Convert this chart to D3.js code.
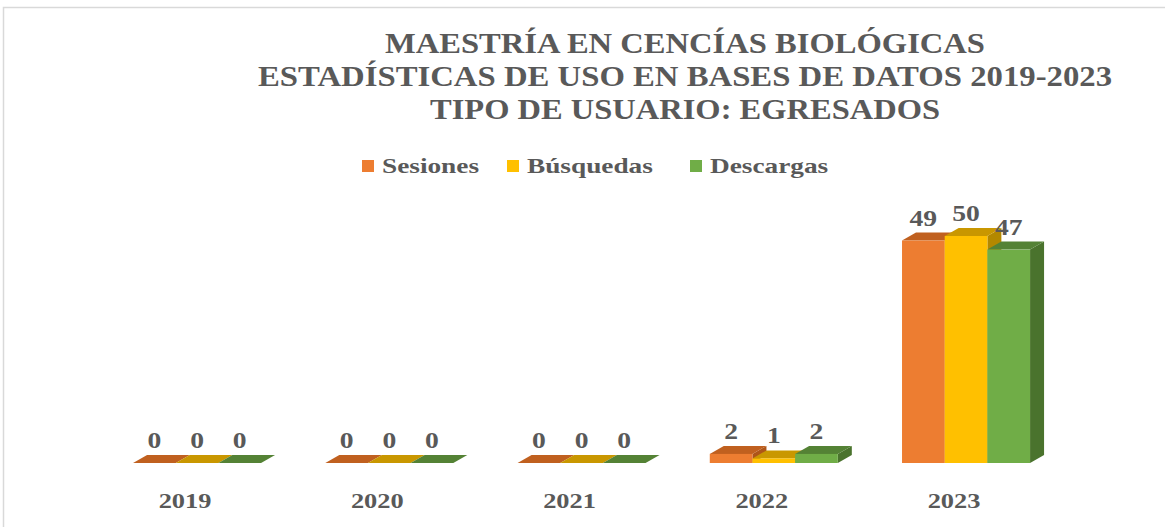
<!DOCTYPE html>
<html>
<head>
<meta charset="utf-8">
<script src="https://cdn.jsdelivr.net/npm/d3@7"></script>
<style>
  body { margin: 0; background: #fff; }
  text { font-family: "Liberation Serif", "Times New Roman", serif; font-weight: bold; fill: #595959; }
</style>
</head>
<body>
<svg id="chart" width="1165" height="527"></svg>
<script>
// chart data
const years = ['2019', '2020', '2021', '2022', '2023'];
const seriesNames = ['Sesiones', 'Búsquedas', 'Descargas'];
const sesiones = [0, 0, 0, 2, 49];
const busquedas = [0, 0, 0, 1, 50];
const descargas = [0, 0, 0, 2, 47];
const titleLines = [
  'MAESTRÍA EN CENCÍAS BIOLÓGICAS',
  'ESTADÍSTICAS DE USO EN BASES DE DATOS 2019-2023',
  'TIPO DE USUARIO: EGRESADOS'
];

const values = [sesiones, busquedas, descargas];
// front, top, side
const colors = [
  ['#ED7D31', '#C0601F', '#AE5519'],
  ['#FFC000', '#C99700', '#B38800'],
  ['#70AD47', '#548235', '#4A732D']
];

const svg = d3.select('#chart');
const dx = 14, dy = -8; // 3d depth offset

// frame
svg.append('path')
  .attr('d', 'M3.5,527 V7.5 H1165')
  .attr('fill', 'none')
  .attr('stroke', '#D9D9D9')
  .attr('stroke-width', 1.5);

// title
const titleBase = [53, 86, 119];
const titleWidth = [600, 854, 510];
svg.append('g').selectAll('text')
  .data(titleLines).enter()
  .append('text')
    .attr('x', 685)
    .attr('y', (d, i) => titleBase[i])
    .attr('text-anchor', 'middle')
    .attr('font-size', 29)
    .attr('textLength', (d, i) => titleWidth[i])
    .attr('lengthAdjust', 'spacingAndGlyphs')
    .text(d => d);

// scales
const x0 = d3.scaleBand()
  .domain(years)
  .range([69.6, 1093.5])
  .paddingInner(0.334)
  .paddingOuter(0.33);

const x1 = d3.scaleBand()
  .domain(seriesNames)
  .range([0, x0.bandwidth()]);

const y = d3.scaleLinear()
  .domain([0, 50])
  .range([463, 236]);

// text in the picture is drawn wider than normal
function stretchText(sel, k) {
  sel.each(function() {
    const w = this.getComputedTextLength();
    d3.select(this).attr('textLength', w * k).attr('lengthAdjust', 'spacingAndGlyphs');
  });
}

// bars, drawn left to right so each front covers the previous side
const bars = svg.append('g');
years.forEach((yr, i) => {
  seriesNames.forEach((s, j) => {
    const v = values[j][i];
    const a = x0(yr) + x1(s);
    const b = a + x1.bandwidth();
    const top = y(v), base = y(0);
    const g = bars.append('g');
    g.append('polygon')
      .attr('points', [[b, base], [b + dx, base + dy], [b + dx, top + dy], [b, top]].join(' '))
      .attr('fill', colors[j][2]);
    g.append('polygon')
      .attr('points', [[a, top], [a + dx, top + dy], [b + dx, top + dy], [b, top]].join(' '))
      .attr('fill', colors[j][1]);
    if (base - top > 0) {
      g.append('rect')
        .attr('x', a).attr('y', top)
        .attr('width', b - a).attr('height', base - top)
        .attr('fill', colors[j][0]);
    }
  });
});

// value labels
years.forEach((yr, i) => {
  seriesNames.forEach((s, j) => {
    const v = values[j][i];
    svg.append('text')
      .attr('x', x0(yr) + x1(s) + x1.bandwidth() / 2)
      .attr('y', y(v) - 15)
      .attr('text-anchor', 'middle')
      .attr('font-size', 23)
      .text(v)
      .call(stretchText, 1.2);
  });
});

// category axis labels
svg.append('g').selectAll('text')
  .data(years).enter()
  .append('text')
    .attr('x', d => x0(d) + x0.bandwidth() / 2 - 12)
    .attr('y', 508)
    .attr('text-anchor', 'middle')
    .attr('font-size', 22)
    .text(d => d)
    .call(stretchText, 1.2);

// legend
const legendX = [362, 507, 690];
const legend = svg.append('g');
seriesNames.forEach((s, j) => {
  legend.append('rect')
    .attr('x', legendX[j]).attr('y', 160)
    .attr('width', 12).attr('height', 12)
    .attr('fill', colors[j][0]);
  legend.append('text')
    .attr('x', legendX[j] + 20)
    .attr('y', 173)
    .attr('font-size', 22)
    .text(s)
    .call(stretchText, 1.24);
});
</script>
</body>
</html>
